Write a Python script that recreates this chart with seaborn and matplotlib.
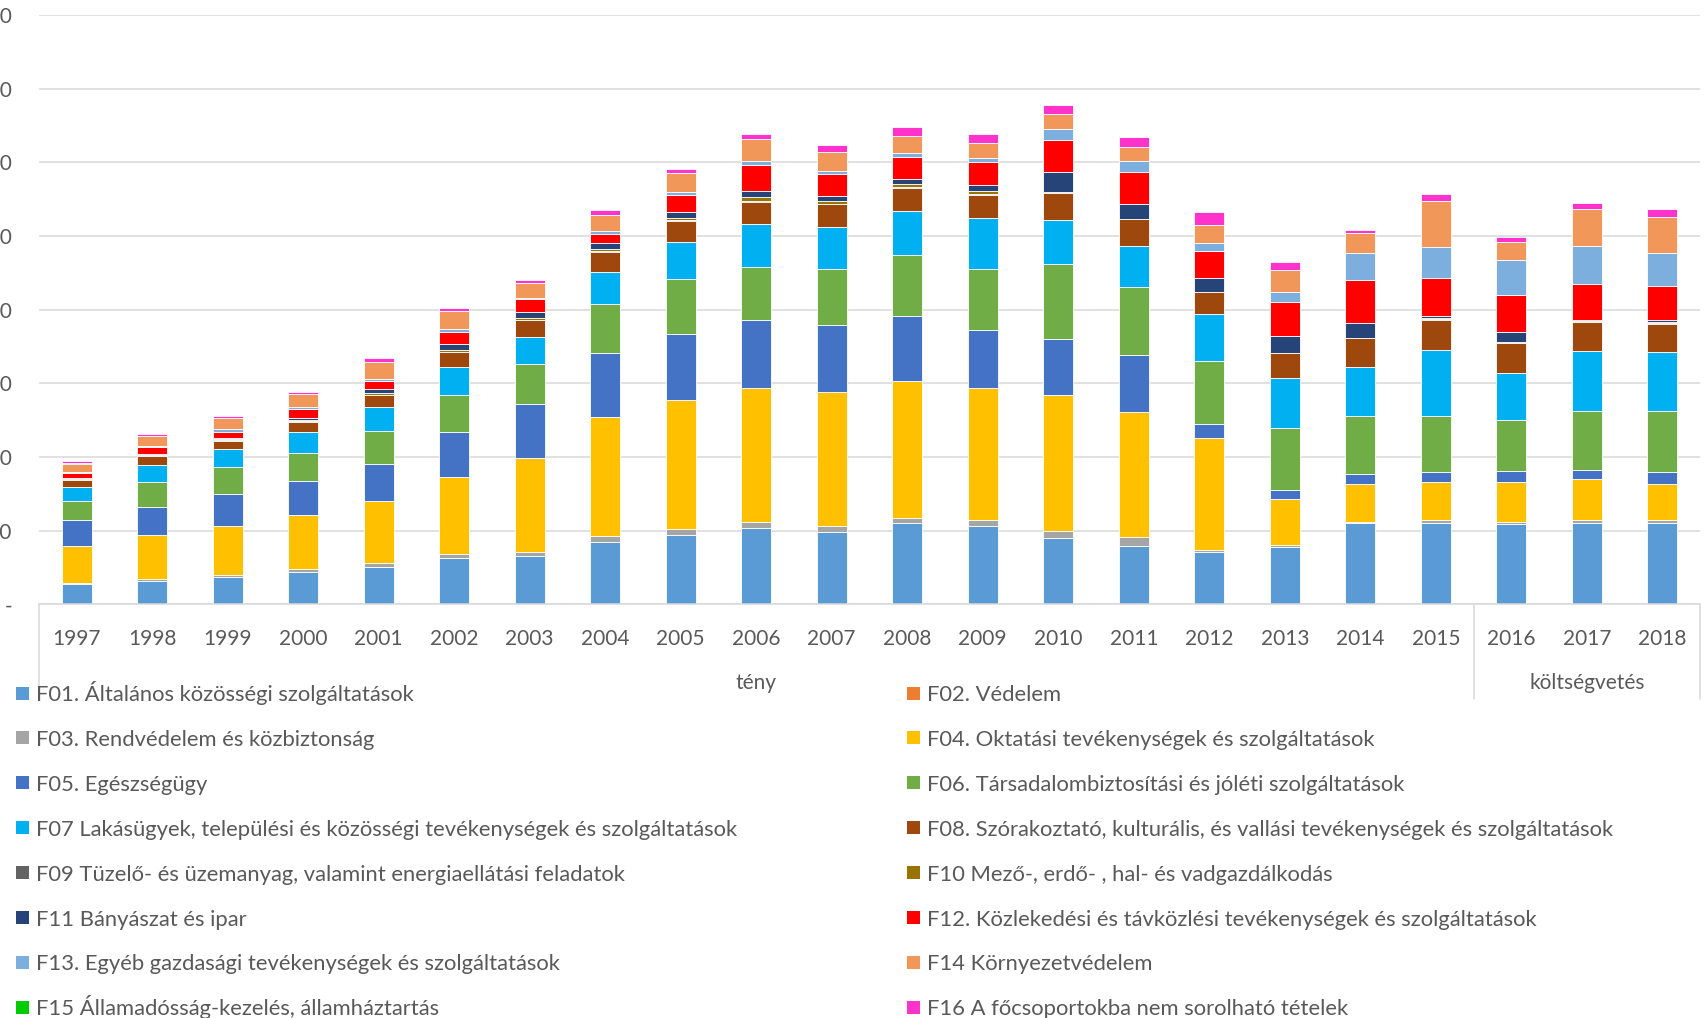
# Local government expenditure by COFOG main group, stacked bars 1997-2018
# (tény = actual, költségvetés = budget)

import numpy as np
import pandas as pd
import matplotlib
matplotlib.use('Agg')
import matplotlib.pyplot as plt
from matplotlib.patches import Rectangle
import seaborn as sns


# =============================================================================
# DATA
# =============================================================================

YEARS = [str(y) for y in range(1997, 2019)]

F01 = [136, 161, 183, 222, 254, 317, 331, 426, 473, 521, 494, 550, 534, 453, 398, 358, 392, 551, 555, 544, 555, 555]
F02 = [0] * 22
F03 = [11, 14, 14, 18, 27, 27, 23, 36, 36, 36, 41, 38, 41, 48, 59, 9, 9, 11, 14, 14, 14, 16]
F04 = [251, 294, 337, 367, 421, 523, 636, 813, 876, 912, 906, 928, 892, 919, 849, 761, 315, 252, 261, 274, 281, 247]
F05 = [172, 195, 213, 231, 254, 306, 367, 428, 453, 462, 453, 444, 398, 383, 387, 93, 61, 68, 68, 70, 59, 77]
F06 = [129, 168, 183, 192, 220, 249, 278, 337, 369, 362, 385, 414, 414, 509, 464, 432, 419, 394, 378, 349, 403, 417]
F07 = [95, 115, 122, 140, 161, 190, 179, 217, 251, 288, 281, 297, 346, 294, 278, 315, 338, 338, 449, 322, 406, 399]
F08 = [48, 59, 59, 70, 82, 100, 115, 138, 147, 154, 156, 158, 156, 186, 179, 152, 172, 193, 208, 199, 197, 195]
F09 = [2] * 22
F10 = [5, 5, 9, 9, 14, 14, 16, 16, 18, 27, 21, 25, 25, 5, 1, 1, 1, 1, 7, 5, 9, 7]
F11 = [9, 9, 7, 16, 29, 38, 41, 38, 36, 41, 36, 32, 38, 134, 102, 93, 116, 102, 14, 70, 7, 14]
F12 = [32, 43, 43, 59, 54, 86, 82, 66, 120, 181, 145, 152, 158, 217, 217, 183, 227, 290, 261, 252, 242, 233]
F13 = [9, 9, 16, 14, 11, 14, 11, 16, 16, 23, 20, 23, 23, 77, 77, 57, 68, 181, 208, 238, 256, 222]
F14 = [54, 72, 75, 86, 113, 127, 102, 113, 134, 152, 134, 118, 106, 100, 93, 118, 150, 138, 315, 122, 256, 249]
F15 = [9] + [0] * 21
F16 = [11, 11, 14, 18, 29, 20, 20, 32, 27, 34, 48, 61, 63, 66, 68, 93, 57, 20, 43, 36, 41, 48]

LABELS = [
    'F01. Általános közösségi szolgáltatások',
    'F02. Védelem',
    'F03. Rendvédelem és közbiztonság',
    'F04. Oktatási tevékenységek és szolgáltatások',
    'F05. Egészségügy',
    'F06. Társadalombiztosítási és jóléti szolgáltatások',
    'F07 Lakásügyek, települési és közösségi tevékenységek és szolgáltatások',
    'F08. Szórakoztató, kulturális, és vallási tevékenységek és szolgáltatások',
    'F09 Tüzelő- és üzemanyag, valamint energiaellátási feladatok',
    'F10 Mező-, erdő- , hal- és vadgazdálkodás',
    'F11 Bányászat és ipar',
    'F12. Közlekedési és távközlési tevékenységek és szolgáltatások',
    'F13. Egyéb gazdasági tevékenységek és szolgáltatások',
    'F14 Környezetvédelem',
    'F15 Államadósság-kezelés, államháztartás',
    'F16 A főcsoportokba nem sorolható tételek',
]

COLORS = ['#5B9BD5', '#ED7D31', '#A5A5A5', '#FFC000', '#4472C4', '#70AD47',
          '#00B0F0', '#9E480E', '#636363', '#997300', '#264478', '#FF0000',
          '#7CAFDD', '#F1975A', '#00CC00', '#FF33CC']

SERIES = [F01, F02, F03, F04, F05, F06, F07, F08,
          F09, F10, F11, F12, F13, F14, F15, F16]

GROUPS = [('tény', 0, 18), ('költségvetés', 19, 21)]

Y_TICKS = list(range(0, 4001, 500))
Y_TICKLABELS = ['-'] + [f'{v:,}'.replace(',', ' ') for v in Y_TICKS[1:]]

TEXT_COLOR = '#595959'
GRID_COLOR = '#D9D9D9'

W_PX, H_PX = 1705, 1018


# =============================================================================
# PLOT HELPERS
# =============================================================================

def plot_stacked(ax):
    df = pd.DataFrame({lab: vals for lab, vals in zip(LABELS, SERIES)}, index=YEARS)
    bottom = np.zeros(len(YEARS))
    for lab, col in zip(LABELS, COLORS):
        vals = df[lab].to_numpy(dtype=float)
        sns.barplot(x=YEARS, y=vals, bottom=bottom, color=col, width=0.4,
                    errorbar=None, edgecolor='white', linewidth=0.6,
                    saturation=1, ax=ax)
        bottom = bottom + vals


def draw_legend(fig):
    # Excel-style legend, filled row by row in two columns.
    # Placed entry by entry so accented capitals don't shift the rows.
    col_x = [16, 907]          # marker left edge, px
    text_dx = 20               # marker left -> text left, px
    row0, pitch = 693, 44.9    # row centre, px from top
    box = 13                   # marker size, px
    for i, (lab, col) in enumerate(zip(LABELS, COLORS)):
        row, c = divmod(i, 2)
        yc = row0 + row * pitch
        x0 = col_x[c]
        fig.add_artist(Rectangle((x0 / W_PX, 1 - (yc + box / 2) / H_PX),
                                 box / W_PX, box / H_PX, facecolor=col,
                                 edgecolor='none', transform=fig.transFigure))
        fig.text((x0 + text_dx) / W_PX, 1 - (yc + 8) / H_PX, lab,
                 ha='left', va='baseline', fontsize=15.8, color=TEXT_COLOR)


# =============================================================================
# MAIN
# =============================================================================

def main():
    sns.set_style('white')
    plt.rcParams['font.family'] = ['Lato', 'DejaVu Sans']

    fig = plt.figure(figsize=(W_PX / 100, H_PX / 100), dpi=100)
    ax = fig.add_axes([0.02287, 0.40639, 0.9742, 0.57868])

    plot_stacked(ax)

    ax.set_xlim(-0.5, len(YEARS) - 0.5)
    ax.set_ylim(0, 4000)
    ax.set_yticks(Y_TICKS)
    ax.set_yticklabels(Y_TICKLABELS)
    ax.set_xlabel(''); ax.set_ylabel('')
    ax.tick_params(axis='y', length=0, pad=19.5, labelsize=15, labelcolor=TEXT_COLOR)
    ax.tick_params(axis='x', length=0, pad=18, labelsize=15, labelcolor=TEXT_COLOR)

    ax.yaxis.grid(True, color=GRID_COLOR, linewidth=1.1)
    ax.set_axisbelow(True)
    for side in ['top', 'left', 'right']:
        ax.spines[side].set_visible(False)
    ax.spines['bottom'].set_color(GRID_COLOR)
    ax.spines['bottom'].set_linewidth(1.1)

    # two-level category axis: separators and group labels
    trans = ax.get_xaxis_transform()
    for xpos in [-0.5, 18.5, 21.5]:
        ax.plot([xpos, xpos], [0, -0.16], color=GRID_COLOR, linewidth=1.1,
                transform=trans, clip_on=False)
    for name, i0, i1 in GROUPS:
        ax.text((i0 + i1) / 2, -0.1336, name, transform=trans, ha='center',
                va='center', fontsize=15, color=TEXT_COLOR)

    draw_legend(fig)

    fig.savefig('out.png', dpi=100)
    plt.close(fig)


if __name__ == '__main__':
    main()
